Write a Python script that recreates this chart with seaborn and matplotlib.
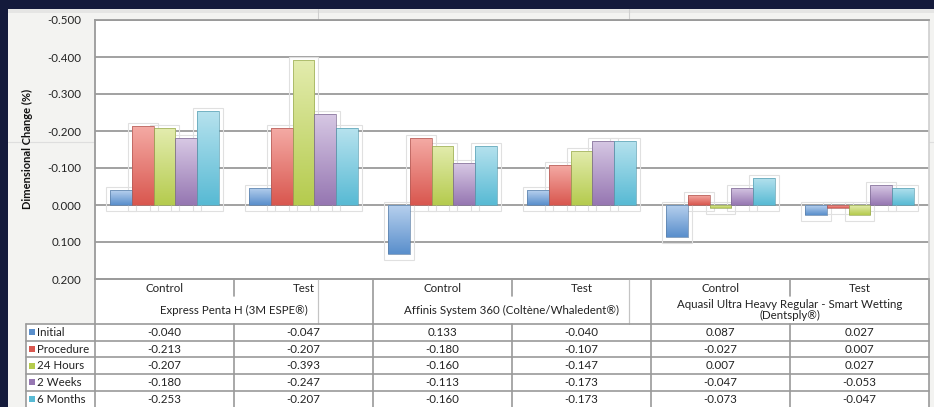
import numpy as np
import pandas as pd
import matplotlib
matplotlib.use("Agg")
import matplotlib.pyplot as plt
import seaborn as sns
from matplotlib.patches import Rectangle
from matplotlib.colors import to_rgb

# ---------------- data ----------------
materials = ["Express Penta H (3M ESPE®)",
             "Affinis System 360 (Coltène/Whaledent®)",
             "Aquasil Ultra Heavy Regular - Smart Wetting\n(Dentsply®)"]
conditions = ["Control", "Test"]
periods = ["Initial", "Procedure", "24 Hours", "2 Weeks", "6 Months"]

initial   = [-0.040, -0.047, 0.133, -0.040, 0.087, 0.027]
procedure = [-0.213, -0.207, -0.180, -0.107, -0.027, 0.007]
hours24   = [-0.207, -0.393, -0.160, -0.147, 0.007, 0.027]
weeks2    = [-0.180, -0.247, -0.113, -0.173, -0.047, -0.053]
months6   = [-0.253, -0.207, -0.160, -0.173, -0.073, -0.047]
series = [initial, procedure, hours24, weeks2, months6]

yticks = [-0.5, -0.4, -0.3, -0.2, -0.1, 0.0, 0.1, 0.2]
ylabel = "Dimensional Change (%)"

# ---------------- styles ----------------
base_colors = ["#5a8fcc", "#d9574f", "#b5cb4e", "#9677b2", "#58bad4"]
top_colors  = ["#b8d1ee", "#f4aaa4", "#e3ecae", "#d7c8e4", "#b6e2ee"]
edge_colors = ["#5a7fa8", "#b05a55", "#9aab55", "#7d6a92", "#5a9fb2"]
FONT = ["Lato", "DejaVu Sans"]
FS = 8.3

cols = [f"{m}|{c}" for m in materials for c in conditions]
rows = []
for p, vals in zip(periods, series):
    for c, v in zip(cols, vals):
        rows.append({"column": c, "period": p, "value": v})
df = pd.DataFrame(rows)

sns.set_theme(style="white")
plt.rcParams["font.family"] = FONT

W, H = 934, 407
fig = plt.figure(figsize=(W / 100, H / 100), dpi=100)
fig.patch.set_facecolor("#141a3b")

# background / table axes in pixel coordinates
fa = fig.add_axes([0, 0, 1, 1], zorder=0)
fa.set_xlim(0, W)
fa.set_ylim(H, 0)
fa.axis("off")
fa.add_patch(Rectangle((8, 9), W - 8, H - 9, facecolor="#f3f3f1", edgecolor="none"))
fa.add_patch(Rectangle((8, 9), W - 8, 4, facecolor="#dcdcdc", edgecolor="none", alpha=0.6))
# faint background guide lines
for xg in (318, 629):
    fa.plot([xg, xg], [9, 324], color="#cfcfcf", lw=0.8)
fa.plot([8, W], [142, 142], color="#dedede", lw=0.8)

# plot area
PL, PR, PT, PB = 95, 929, 20, 279
ax = fig.add_axes([PL / W, (H - PB) / H, (PR - PL) / W, (PB - PT) / H], zorder=1)
ax.set_facecolor("white")

sns.barplot(data=df, x="column", y="value", hue="period", order=cols,
            hue_order=periods, palette=base_colors, width=0.78, saturation=1,
            legend=False, ax=ax, errorbar=None, linewidth=0)

ax.set_xlim(-0.5, len(cols) - 0.5)
ax.set_ylim(yticks[-1], yticks[0])
ax.set_yticks(yticks)
ax.set_yticklabels([("0.000" if abs(t) < 1e-9 else f"{t:.3f}") for t in yticks],
                   fontsize=FS, color="#222222", family=FONT)
ax.set_xticks([])
ax.set_xlabel("")
ax.set_ylabel("")
ax.tick_params(axis="y", length=0, pad=10)
for t in yticks:
    ax.axhline(t, color="#9a9a9a", lw=1.3, zorder=0.5)
for s in ("top", "left"):
    ax.spines[s].set_color("#9a9a9a")
    ax.spines[s].set_linewidth(1.3)
ax.spines["right"].set_color("#d0d0d0")
ax.spines["bottom"].set_color("#9a9a9a")

# gradients and shadow frames
px = (len(cols)) / (PR - PL)
py = (yticks[-1] - yticks[0]) / (PB - PT)
for patch in list(ax.patches):
    fc = to_rgb(patch.get_facecolor())
    idx = int(np.argmin([np.sum((np.array(fc) - np.array(to_rgb(c))) ** 2) for c in base_colors]))
    x0 = patch.get_x()
    w = patch.get_width()
    v = patch.get_height()
    lo, hi = min(0, v), max(0, v)
    # frame
    ax.add_patch(Rectangle((x0 - 4 * px, lo - 3 * py), w + 8 * px, (hi - lo) + 9 * py,
                           fill=False, edgecolor="#e0e0e0", lw=0.8, zorder=1))
    top = np.array(to_rgb(top_colors[idx]))
    bot = np.array(to_rgb(base_colors[idx]))
    n = 64
    t = np.linspace(0, 1, n)[:, None]
    grad = (bot * (1 - t) + top * t)[:, None, :]  # row0 = bottom (dark)
    im = ax.imshow(grad, extent=(x0, x0 + w, hi, lo), origin="lower",
                   aspect="auto", zorder=2, interpolation="bilinear")
    im.set_clip_path(patch)
    patch.set_facecolor("none")
    patch.set_edgecolor(edge_colors[idx])
    patch.set_linewidth(0.5)
    patch.set_zorder(3)

ax.set_xlim(-0.5, len(cols) - 0.5)
ax.set_ylim(yticks[-1], yticks[0])

fig.text(27 / W, 1 - 149 / H, ylabel, rotation=90, ha="center", va="center",
         fontsize=8, fontweight="bold", color="#111111", family=FONT)

# ---------------- data table ----------------
LC = "#9a9a9a"
colw = (PR - PL) / len(cols)
xb = [PL + i * colw for i in range(len(cols) + 1)]
HT, HM, HB = 279, 296, 324
rh = 16.7
rb = [HB + i * rh for i in range(len(periods) + 1)]
LEGX = 26

fa.add_patch(Rectangle((PL, HT), PR - PL, HB - HT, facecolor="white", edgecolor="none"))
fa.add_patch(Rectangle((LEGX, HB), PR - LEGX, H - HB, facecolor="white", edgecolor="none"))
fa.plot([PL, PR], [HT, HT], color=LC, lw=1.3)
for i, x in enumerate(xb):
    if i % 2 == 0:
        fa.plot([x, x], [HT, H], color=LC, lw=1.2)
    else:
        fa.plot([x, x], [HT, HM], color=LC, lw=1.2)
        fa.plot([x, x], [HB, H], color=LC, lw=1.2)
for xg in (318, 629):
    fa.plot([xg, xg], [HT, HB], color="#c4c4c4", lw=0.8)
fa.plot([LEGX, LEGX], [HB, H], color=LC, lw=1.2)
for y in rb:
    fa.plot([LEGX, PR], [y, y], color=LC, lw=1.2)

for i, c in enumerate(cols):
    cx = (xb[i] + xb[i + 1]) / 2
    fa.text(cx, 288, c.split("|")[1], ha="center", va="center", fontsize=FS, color="#222222")
for j, m in enumerate(materials):
    cx = xb[2 * j + 1]
    fa.text(cx, 310, m, ha="center", va="center", fontsize=FS, color="#222222",
            linespacing=1.05)

for r, (p, vals) in enumerate(zip(periods, series)):
    cy = (rb[r] + rb[r + 1]) / 2
    fa.add_patch(Rectangle((29, cy - 3), 6, 6, facecolor=base_colors[r], edgecolor="none"))
    fa.text(37, cy, p, ha="left", va="center", fontsize=FS, color="#222222")
    for i, v in enumerate(vals):
        cx = (xb[i] + xb[i + 1]) / 2
        fa.text(cx, cy, f"{v:.3f}", ha="center", va="center", fontsize=FS, color="#222222")

# navy frame
fa.add_patch(Rectangle((0, 0), W, 9, facecolor="#141a3b", edgecolor="none", zorder=5))
fa.add_patch(Rectangle((0, 0), 8, H, facecolor="#141a3b", edgecolor="none", zorder=5))

fig.savefig("out.png", dpi=100, facecolor=fig.get_facecolor())
